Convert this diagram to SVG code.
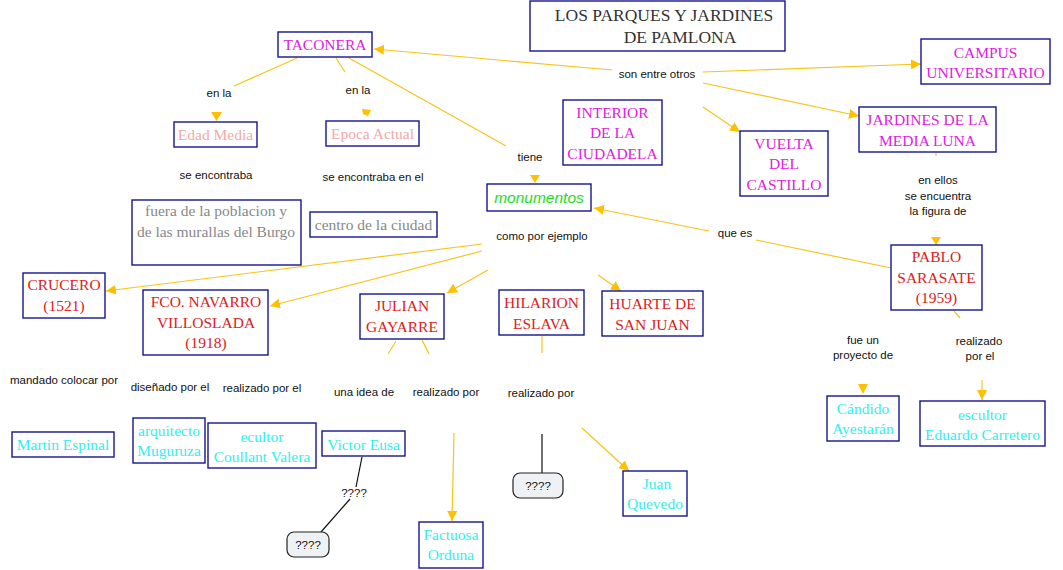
<svg xmlns="http://www.w3.org/2000/svg" width="1063" height="570" viewBox="0 0 1063 570">
<defs>
<style>
.box{fill:#fff;stroke:#14148f;stroke-width:1.4}
.rbox{fill:#eef2f4;stroke:#222;stroke-width:1.2}
.n{font-family:"Liberation Serif","Times New Roman",serif;font-size:15.5px;text-anchor:middle}
.mag{fill:#e020e0}.red{fill:#dd2020}.cy{fill:#33eeee}.pk{fill:#f4a8a8}.gr{fill:#888}
.ttl{font-family:"Liberation Serif",serif;font-size:17.5px;fill:#333;text-anchor:middle}
.mon{font-family:"Liberation Sans",Arial,sans-serif;font-size:15.5px;font-style:italic;fill:#22dd22;text-anchor:middle}
.l{font-family:"Liberation Sans",Arial,sans-serif;font-size:11.5px;fill:#111;text-anchor:middle}
.c{stroke:#f5c518;stroke-width:1.2;fill:none}
.k{stroke:#111;stroke-width:1.2;fill:none}
.ah{fill:#ffc000}
</style>
<marker id="a" viewBox="0 0 10 10" refX="10" refY="5" markerWidth="10" markerHeight="10" markerUnits="userSpaceOnUse" orient="auto"><path d="M0,0L10,5L0,10z" fill="#ffc000"/></marker>
</defs>

<g id="connectors">
<line class="c" x1="297" y1="58" x2="234" y2="86"/>
<path class="ah" d="M211,112L222,112L216.5,121z"/>
<line class="c" x1="336" y1="58" x2="345" y2="72"/>
<path class="ah" d="M362,109L371,110L368,116L363,114z"/>
<line class="c" x1="349" y1="58" x2="506" y2="146"/>
<path class="ah" d="M530,175L540,175L535,183z"/>
<line class="c" x1="612" y1="70" x2="374" y2="49" marker-end="url(#a)"/>
<line class="c" x1="703" y1="72" x2="921" y2="64" marker-end="url(#a)"/>
<line class="c" x1="703" y1="83" x2="859" y2="116" marker-end="url(#a)"/>
<line class="c" x1="703" y1="107" x2="740" y2="132" marker-end="url(#a)"/>
<line class="c" x1="936" y1="152" x2="936" y2="156"/>
<path class="ah" d="M931,237L941,237L936,245z"/>
<line class="c" x1="891" y1="268" x2="756" y2="240"/>
<line class="c" x1="709" y1="231" x2="594" y2="208" marker-end="url(#a)"/>
<line class="c" x1="482" y1="244" x2="106" y2="291" marker-end="url(#a)"/>
<line class="c" x1="482" y1="251" x2="270" y2="306" marker-end="url(#a)"/>
<line class="c" x1="488" y1="270" x2="447" y2="293" marker-end="url(#a)"/>
<line class="c" x1="598" y1="275" x2="621" y2="291" marker-end="url(#a)"/>
<line class="c" x1="396" y1="341" x2="388" y2="354"/>
<line class="c" x1="422" y1="340" x2="429" y2="354"/>
<line class="c" x1="454" y1="433" x2="452" y2="521" marker-end="url(#a)"/>
<line class="c" x1="542" y1="336" x2="542" y2="353"/>
<line class="k" x1="542" y1="434" x2="542" y2="473"/>
<line class="c" x1="582" y1="428" x2="629" y2="471" marker-end="url(#a)"/>
<line class="k" x1="362" y1="457" x2="356" y2="487"/>
<line class="k" x1="350" y1="499" x2="321" y2="532"/>
<line class="c" x1="954" y1="311" x2="960" y2="318"/>
<path class="ah" d="M858,384L868,384L863,394z"/>
<line class="c" x1="982" y1="380" x2="982" y2="400" marker-end="url(#a)"/>
</g>

<g id="title"><rect class="box" x="530" y="1" width="255" height="50"/><text class="ttl" x="664" y="21">LOS PARQUES Y JARDINES</text><text class="ttl" x="680" y="43">DE PAMLONA</text></g>
<g id="taconera"><rect class="box" x="278" y="32" width="94" height="25"/><text class="n mag" x="325" y="49.5">TACONERA</text></g>
<g id="edad"><rect class="box" x="174" y="122" width="83" height="25"/><text class="n pk" x="215.5" y="139.5">Edad Media</text></g>
<g id="epoca"><rect class="box" x="326" y="121" width="93" height="25"/><text class="n pk" x="372.5" y="138.5">Epoca Actual</text></g>
<g id="fuera"><rect class="box" x="132" y="200" width="169" height="65"/><text class="n gr" x="216" y="216">fuera de la poblacion y</text><text class="n gr" x="216" y="237">de las murallas del Burgo</text></g>
<g id="centro"><rect class="box" x="310" y="212" width="127" height="25"/><text class="n gr" x="373.5" y="230">centro de la ciudad</text></g>
<g id="monumentos"><rect class="box" x="487" y="184" width="104" height="27"/><text class="mon" x="539" y="203">monumentos</text></g>
<g id="crucero"><rect class="box" x="23" y="273" width="82" height="45"/><text class="n red" x="64" y="289.5">CRUCERO</text><text class="n red" x="64" y="310.5">(1521)</text></g>
<g id="fco"><rect class="box" x="143" y="290" width="125" height="65"/><text class="n red" x="206" y="306.5">FCO. NAVARRO</text><text class="n red" x="206" y="327.5">VILLOSLADA</text><text class="n red" x="206" y="348">(1918)</text></g>
<g id="julian"><rect class="box" x="360" y="294" width="84" height="45"/><text class="n red" x="402" y="311">JULIAN</text><text class="n red" x="402" y="332">GAYARRE</text></g>
<g id="hilarion"><rect class="box" x="499" y="290" width="85" height="45"/><text class="n red" x="541.5" y="307.5">HILARION</text><text class="n red" x="541.5" y="328.5">ESLAVA</text></g>
<g id="huarte"><rect class="box" x="602" y="291" width="101" height="45"/><text class="n red" x="652.5" y="308.5">HUARTE DE</text><text class="n red" x="652.5" y="329.5">SAN JUAN</text></g>
<g id="interior"><rect class="box" x="563" y="100" width="99" height="65"/><text class="n mag" x="612.5" y="117.5">INTERIOR</text><text class="n mag" x="612.5" y="138">DE LA</text><text class="n mag" x="612.5" y="158.5">CIUDADELA</text></g>
<g id="vuelta"><rect class="box" x="740" y="131" width="88" height="65"/><text class="n mag" x="784" y="148.5">VUELTA</text><text class="n mag" x="784" y="169">DEL</text><text class="n mag" x="784" y="189.5">CASTILLO</text></g>
<g id="campus"><rect class="box" x="921" y="39" width="129" height="45"/><text class="n mag" x="985.5" y="57.5">CAMPUS</text><text class="n mag" x="985.5" y="77.5">UNIVERSITARIO</text></g>
<g id="jardines"><rect class="box" x="859" y="107" width="137" height="45"/><text class="n mag" x="927.5" y="124.5">JARDINES DE LA</text><text class="n mag" x="927.5" y="145.5">MEDIA LUNA</text></g>
<g id="pablo"><rect class="box" x="891" y="245" width="91" height="65"/><text class="n red" x="936.5" y="261.5">PABLO</text><text class="n red" x="936.5" y="282.5">SARASATE</text><text class="n red" x="936.5" y="303">(1959)</text></g>
<g id="candido"><rect class="box" x="827" y="396" width="72" height="45"/><text class="n cy" x="863" y="413.5">Cándido</text><text class="n cy" x="863" y="433.5">Ayestarán</text></g>
<g id="carretero"><rect class="box" x="920" y="401" width="125" height="45"/><text class="n cy" x="982.5" y="419.5">escultor</text><text class="n cy" x="982.5" y="439.5">Eduardo Carretero</text></g>
<g id="martin"><rect class="box" x="12" y="432" width="102" height="25"/><text class="n cy" x="63" y="449.5">Martin Espinal</text></g>
<g id="muguruza"><rect class="box" x="133" y="418" width="72" height="45"/><text class="n cy" x="169" y="435.5">arquitecto</text><text class="n cy" x="169" y="455.5">Muguruza</text></g>
<g id="coullant"><rect class="box" x="208" y="423" width="108" height="45"/><text class="n cy" x="262" y="441.5">ecultor</text><text class="n cy" x="262" y="461.5">Coullant Valera</text></g>
<g id="victor"><rect class="box" x="322" y="431" width="83" height="25"/><text class="n cy" x="363.5" y="449.5">Victor Eusa</text></g>
<g id="factuosa"><rect class="box" x="419" y="522" width="64" height="46"/><text class="n cy" x="451" y="539.5">Factuosa</text><text class="n cy" x="451" y="559.5">Orduna</text></g>
<g id="juan"><rect class="box" x="623" y="471" width="64" height="45"/><text class="n cy" x="657" y="488.5">Juan</text><text class="n cy" x="655" y="508.5">Quevedo</text></g>
<g id="q1"><rect class="rbox" x="287" y="532" width="42" height="25" rx="7"/><text class="l" x="308" y="549">????</text></g>
<g id="q2"><rect class="rbox" x="513" y="473" width="50" height="25" rx="7"/><text class="l" x="538" y="490">????</text></g>

<g id="labels">
<text class="l" x="219" y="97">en la</text>
<text class="l" x="358" y="94">en la</text>
<text class="l" x="216" y="179">se encontraba</text>
<text class="l" x="373" y="181">se encontraba en el</text>
<text class="l" x="530" y="161">tiene</text>
<text class="l" x="657" y="78">son entre otros</text>
<text class="l" x="542" y="240">como por ejemplo</text>
<text class="l" x="735" y="237">que es</text>
<text class="l" x="938" y="184">en ellos</text>
<text class="l" x="938" y="200">se encuentra</text>
<text class="l" x="938" y="215">la figura de</text>
<text class="l" x="863" y="344">fue un</text>
<text class="l" x="863" y="359">proyecto de</text>
<text class="l" x="979" y="345">realizado</text>
<text class="l" x="980" y="360">por el</text>
<text class="l" x="64" y="384">mandado colocar por</text>
<text class="l" x="170" y="391">diseñado por el</text>
<text class="l" x="262" y="392">realizado por el</text>
<text class="l" x="364" y="396">una idea de</text>
<text class="l" x="446" y="396">realizado por</text>
<text class="l" x="541" y="397">realizado por</text>
<text class="l" x="354" y="497">????</text>
</g>
</svg>
